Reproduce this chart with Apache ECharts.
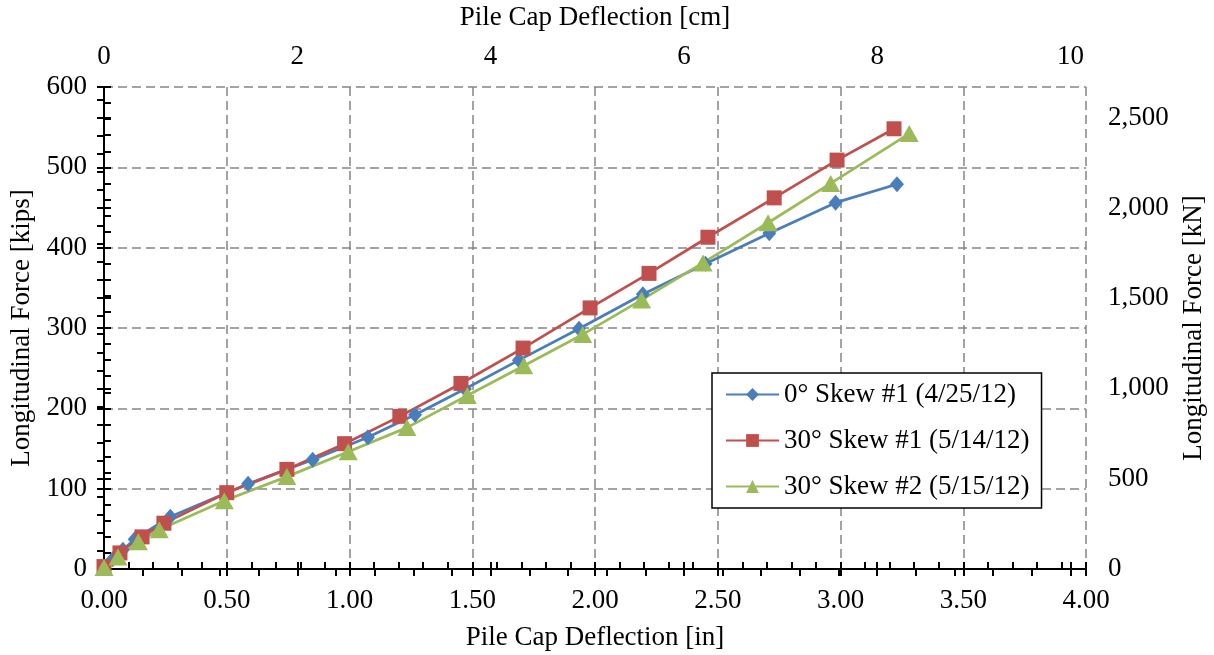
<!DOCTYPE html>
<html>
<head>
<meta charset="utf-8">
<script src="https://cdn.jsdelivr.net/npm/echarts@6/dist/echarts.min.js"></script>
<style>
  html, body { margin: 0; padding: 0; background: #fff; }
  #chart { width: 1214px; height: 655px; }
</style>
</head>
<body>
<div id="chart"></div>
<script>
// deflection [in] / force [kips]
const skew0X = [0.00, 0.035, 0.077, 0.125, 0.27, 0.587, 0.85, 1.075, 1.267, 1.47, 1.69, 1.935, 2.195, 2.45, 2.71, 2.98, 3.23]
const skew0Y = [3, 12, 24, 37, 65, 106, 136, 164, 192, 224, 260, 299, 342, 380, 418, 456, 479]
const skew30aX = [0.00, 0.065, 0.155, 0.244, 0.50, 0.745, 0.98, 1.205, 1.454, 1.707, 1.98, 2.22, 2.46, 2.73, 2.986, 3.218]
const skew30aY = [3, 20, 40, 57, 95, 124, 156, 190, 231, 275, 325, 368, 413, 462, 509, 548]
const skew30bX = [0.00, 0.057, 0.14, 0.225, 0.49, 0.745, 0.995, 1.234, 1.48, 1.71, 1.95, 2.19, 2.44, 2.705, 2.96, 3.28]
const skew30bY = [2, 15, 34, 49, 85, 115, 146, 176, 216, 253, 292, 335, 381, 431, 480, 542]
const seriesNames = ['0° Skew #1 (4/25/12)', '30° Skew #1 (5/14/12)', '30° Skew #2 (5/15/12)']

const IN_MAX = 4, KIPS_MAX = 600
const CM_PER_IN = 2.54, KN_PER_KIP = 4.44822

const font = 'Liberation Serif'
const txt = { color: '#000', fontFamily: font, fontSize: 27 }
const axisLine = { show: true, lineStyle: { color: '#000', width: 2 } }
const grid = { type: [9, 5], color: '#858585', width: 1.5 }

const pairs = (xs, ys) => xs.map((x, i) => [x, ys[i]])

// a second, label-less copy of each axis draws the minor ticks on the inside
const innerTicks = (extra) => Object.assign({
  type: 'value', axisLine: { show: false }, axisLabel: { show: false },
  splitLine: { show: false },
  axisTick: { show: true, inside: true, length: 7, lineStyle: { color: '#000', width: 2 } },
  minorTick: { show: true, splitNumber: 5, length: 7, lineStyle: { color: '#000', width: 2 } }
}, extra)

const chart = echarts.init(document.getElementById('chart'))
chart.setOption({
  animation: false,
  backgroundColor: '#fff',
  textStyle: { fontFamily: font },
  grid: { left: 104, right: 128, top: 87, bottom: 86, containLabel: false, outerBoundsMode: 'none' },
  legend: {
    orient: 'vertical', left: 712, top: 373,
    padding: [8, 12, 8, 13], itemGap: 19, itemWidth: 53, itemHeight: 16,
    borderColor: '#000', borderWidth: 1.5, backgroundColor: '#fff',
    textStyle: txt, data: seriesNames
  },
  xAxis: [
    {
      type: 'value', position: 'bottom', min: 0, max: IN_MAX, interval: 0.5,
      name: 'Pile Cap Deflection [in]', nameLocation: 'middle', nameGap: 55, nameTextStyle: txt,
      axisLine, axisLabel: Object.assign({ margin: 18, formatter: v => v.toFixed(2) }, txt),
      axisTick: { show: true, length: 7, lineStyle: { color: '#000', width: 2 } },
      splitLine: { show: true, lineStyle: grid }
    },
    {
      type: 'value', position: 'top', min: 0, max: IN_MAX * CM_PER_IN, interval: 2,
      name: 'Pile Cap Deflection [cm]', nameLocation: 'middle', nameGap: 56, nameTextStyle: txt,
      axisLine, axisLabel: Object.assign({ margin: 17, formatter: v => (v % 2 === 0 ? String(v) : '') }, txt),
      axisTick: { show: true, length: 7, lineStyle: { color: '#000', width: 2 } },
      splitLine: { show: false }
    },
    innerTicks({ position: 'bottom', min: 0, max: IN_MAX, interval: 0.5 }),
    innerTicks({ position: 'top', min: 0, max: IN_MAX * CM_PER_IN, interval: 2 })
  ],
  yAxis: [
    {
      type: 'value', position: 'left', min: 0, max: KIPS_MAX, interval: 100,
      name: 'Longitudinal Force [kips]', nameLocation: 'middle', nameGap: 69, nameTextStyle: txt,
      axisLine, axisLabel: Object.assign({ margin: 17 }, txt),
      axisTick: { show: true, length: 7, lineStyle: { color: '#000', width: 2 } },
      splitLine: { show: true, lineStyle: grid }
    },
    {
      type: 'value', position: 'right', min: 0, max: KIPS_MAX * KN_PER_KIP, interval: 500,
      name: 'Longitudinal Force [kN]', nameLocation: 'middle', nameGap: 94, nameTextStyle: txt,
      axisLine, axisLabel: Object.assign({ margin: 22,
        formatter: v => (v % 500 === 0 ? v.toLocaleString('en-US') : '') }, txt),
      axisTick: { show: true, length: 7, lineStyle: { color: '#000', width: 2 } },
      splitLine: { show: false }
    },
    innerTicks({ position: 'left', min: 0, max: KIPS_MAX, interval: 100 }),
    innerTicks({ position: 'right', min: 0, max: KIPS_MAX * KN_PER_KIP, interval: 500 })
  ],
  series: [
    {
      name: seriesNames[0], type: 'line', data: pairs(skew0X, skew0Y),
      symbol: 'diamond', symbolSize: [14, 16],
      itemStyle: { color: '#4a7ebb' }, lineStyle: { width: 2.75, color: '#4a7ebb' }
    },
    {
      name: seriesNames[1], type: 'line', data: pairs(skew30aX, skew30aY),
      symbol: 'rect', symbolSize: 15,
      itemStyle: { color: '#c0504d' }, lineStyle: { width: 2.75, color: '#c0504d' }
    },
    {
      name: seriesNames[2], type: 'line', data: pairs(skew30bX, skew30bY),
      symbol: 'triangle', symbolSize: [19, 17],
      itemStyle: { color: '#9bbb59' }, lineStyle: { width: 2.75, color: '#9bbb59' }
    }
  ]
})
window.addEventListener('resize', () => chart.resize())
</script>
</body>
</html>
